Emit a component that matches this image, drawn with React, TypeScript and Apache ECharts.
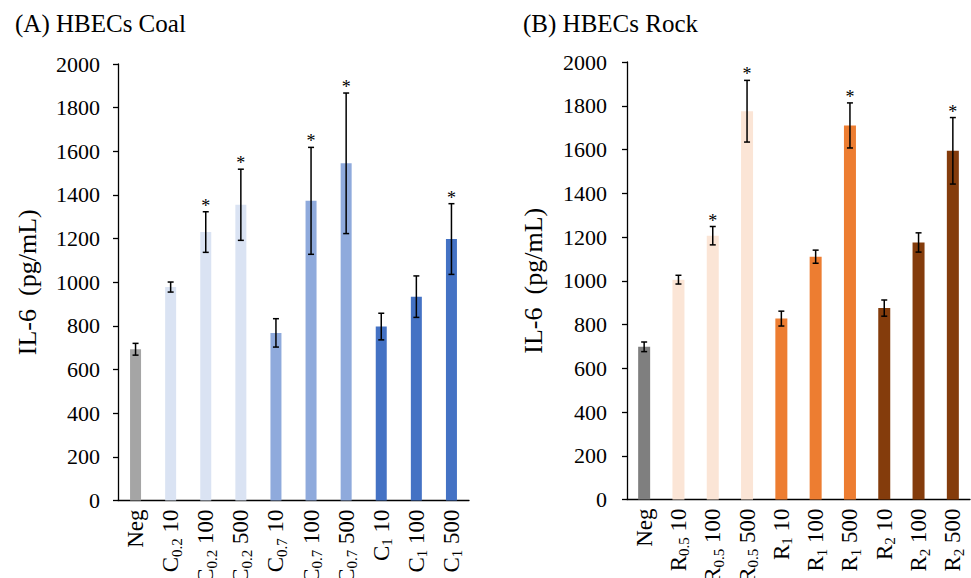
import React, { useEffect, useRef } from "react";
import * as echarts from "echarts";

// IL-6 secretion by HBECs after exposure to coal and rock dust (pg/mL)
const coalCategories = ["Neg", "C0.2 10", "C0.2 100", "C0.2 500", "C0.7 10", "C0.7 100", "C0.7 500", "C1 10", "C1 100", "C1 500"];
const coalMeans = [693, 978, 1230, 1355, 768, 1373, 1545, 797, 934, 1198];
const coalErrors = [27, 23, 93, 163, 65, 245, 322, 61, 95, 162];
const coalSignificant = [0, 0, 1, 1, 0, 1, 1, 0, 0, 1];

const rockCategories = ["Neg", "R0.5 10", "R0.5 100", "R0.5 500", "R1 10", "R1 100", "R1 500", "R2 10", "R2 100", "R2 500"];
const rockMeans = [698, 1005, 1206, 1775, 827, 1110, 1710, 875, 1175, 1594];
const rockErrors = [22, 20, 42, 141, 34, 30, 103, 37, 44, 152];
const rockSignificant = [0, 0, 1, 1, 0, 0, 1, 0, 0, 1];

const yTicks = { min: 0, max: 2000, interval: 200 };

const coalColors = ["#A5A5A5", "#DAE3F3", "#DAE3F3", "#DAE3F3", "#8FAADC", "#8FAADC", "#8FAADC", "#4472C4", "#4472C4", "#4472C4"];
const rockColors = ["#7F7F7F", "#FBE5D6", "#FBE5D6", "#FBE5D6", "#ED7D31", "#ED7D31", "#ED7D31", "#843C0C", "#843C0C", "#843C0C"];

const FONT = "Liberation Serif";

// "C0.2 10" -> C with subscript 0.2, then the dose
function formatCategory(label: string): string {
  const m = /^([A-Z])([\d.]+) (\d+)$/.exec(label);
  if (!m) return `{m|${label}}`;
  return `{m|${m[1]}}{s|${m[2]}}{m| ${m[3]}}`;
}

function errorItems(means: number[], errs: number[], sig: number[]) {
  return means.map((v, i) => [i, v - errs[i], v + errs[i], sig[i]]);
}

function renderErrorBar(params: any, api: any) {
  const i = api.value(0);
  const lo = api.value(1);
  const hi = api.value(2);
  const star = api.value(3);
  const top = api.coord([i, hi]);
  const bot = api.coord([i, lo]);
  const cap = 3;
  const lineStyle = { stroke: "#000", lineWidth: 1.5 };
  const children: any[] = [
    { type: "line", shape: { x1: top[0], y1: top[1], x2: bot[0], y2: bot[1] }, style: lineStyle },
    { type: "line", shape: { x1: top[0] - cap, y1: top[1], x2: top[0] + cap, y2: top[1] }, style: lineStyle },
    { type: "line", shape: { x1: bot[0] - cap, y1: bot[1], x2: bot[0] + cap, y2: bot[1] }, style: lineStyle },
  ];
  if (star) {
    children.push({
      type: "text",
      style: {
        text: "*",
        x: top[0],
        y: top[1] - 6,
        align: "center",
        verticalAlign: "middle",
        fontSize: 18,
        fontFamily: FONT,
        fill: "#000",
      },
    });
  }
  return { type: "group", children };
}

function yAxis(gridIndex: number, margin: number, nameGap: number) {
  return {
    type: "value",
    gridIndex,
    ...yTicks,
    name: "IL-6  (pg/mL)",
    nameLocation: "middle",
    nameGap,
    nameTextStyle: { fontFamily: FONT, fontSize: 26, color: "#000" },
    axisLine: { show: true, lineStyle: { color: "#000", width: 1.3 } },
    axisTick: { show: true, inside: false, length: 5, lineStyle: { color: "#000", width: 1.3 } },
    axisLabel: {
      fontFamily: FONT,
      fontSize: 22,
      color: "#000",
      margin,
      formatter: (v: number) => String(v),
    },
    splitLine: { show: false },
  };
}

function xAxis(gridIndex: number, data: string[]) {
  return {
    type: "category",
    gridIndex,
    data,
    axisLine: { show: true, lineStyle: { color: "#000", width: 1.3 } },
    axisTick: { show: false },
    axisLabel: {
      rotate: 90,
      margin: 9,
      interval: 0,
      formatter: formatCategory,
      rich: {
        m: { fontFamily: FONT, fontSize: 23, color: "#000", lineHeight: 27, verticalAlign: "middle" },
        s: { fontFamily: FONT, fontSize: 15, color: "#000", lineHeight: 15, verticalAlign: "bottom" },
      },
    },
  };
}

export default function App() {
  const ref = useRef<HTMLDivElement>(null);

  useEffect(() => {
    if (!ref.current) return;
    const chart = echarts.init(ref.current, undefined, { renderer: "svg" });
    chart.setOption({
      animation: false,
      backgroundColor: "#fff",
      title: [
        { text: "(A) HBECs Coal", left: 10, top: 6, textStyle: { fontFamily: FONT, fontSize: 25, fontWeight: "normal", color: "#000" } },
        { text: "(B) HBECs Rock", left: 518, top: 6, textStyle: { fontFamily: FONT, fontSize: 25, fontWeight: "normal", color: "#000" } },
      ],
      grid: [
        { left: 118, top: 64, width: 351, height: 436.5, containLabel: false, outerBoundsMode: "none" },
        { left: 627, top: 62, width: 343, height: 437.5, containLabel: false, outerBoundsMode: "none" },
      ],
      xAxis: [xAxis(0, coalCategories), xAxis(1, rockCategories)],
      yAxis: [yAxis(0, 18, 78), yAxis(1, 20, 81)],
      series: [
        {
          type: "bar",
          xAxisIndex: 0,
          yAxisIndex: 0,
          barWidth: 11,
          data: coalMeans.map((v, i) => ({ value: v, itemStyle: { color: coalColors[i] } })),
        },
        {
          type: "custom",
          xAxisIndex: 0,
          yAxisIndex: 0,
          renderItem: renderErrorBar,
          encode: { x: 0, y: [1, 2] },
          itemStyle: { color: "#000" },
          data: errorItems(coalMeans, coalErrors, coalSignificant),
          z: 5,
          clip: false,
        },
        {
          type: "bar",
          xAxisIndex: 1,
          yAxisIndex: 1,
          barWidth: 12,
          data: rockMeans.map((v, i) => ({ value: v, itemStyle: { color: rockColors[i] } })),
        },
        {
          type: "custom",
          xAxisIndex: 1,
          yAxisIndex: 1,
          renderItem: renderErrorBar,
          encode: { x: 0, y: [1, 2] },
          itemStyle: { color: "#000" },
          data: errorItems(rockMeans, rockErrors, rockSignificant),
          z: 5,
          clip: false,
        },
      ],
    });
    return () => chart.dispose();
  }, []);

  return (
    <div
      ref={ref}
      style={{ position: "fixed", left: 0, top: 0, width: 971, height: 578, background: "#fff" }}
    />
  );
}
